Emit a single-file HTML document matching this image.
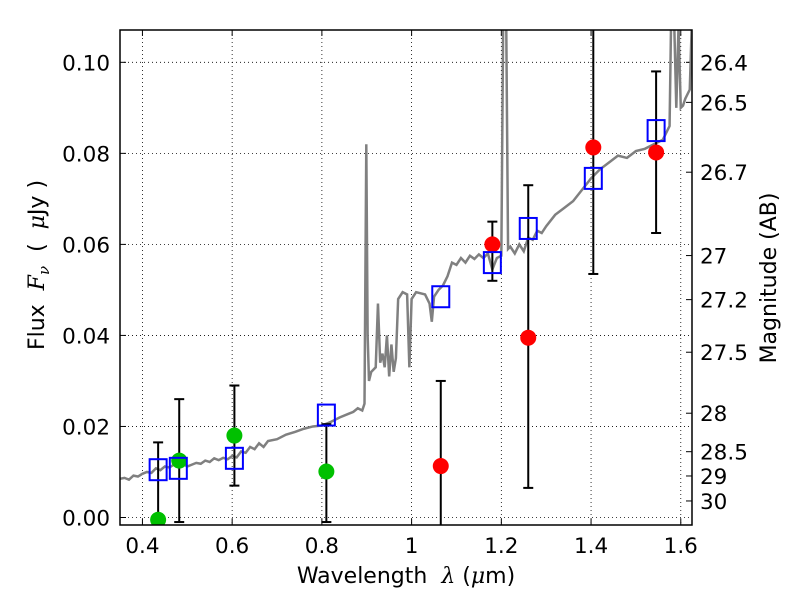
<!DOCTYPE html>
<html><head><meta charset="utf-8"><style>
body{margin:0;background:#fff;overflow:hidden;}
svg text{font-family:"DejaVu Sans","Liberation Sans",sans-serif;fill:#000;}
</style></head><body>
<div style="position:relative;width:800px;height:600px;">
<svg id="c" width="800" height="600" style="position:absolute;left:0;top:0" xmlns="http://www.w3.org/2000/svg"></svg>
<svg width="800" height="600" style="position:absolute;left:0;top:0;pointer-events:none" xmlns="http://www.w3.org/2000/svg">
<text x="406" y="583" text-anchor="middle" font-size="22" xml:space="preserve">Wavelength  <tspan font-style="italic" font-family="DejaVu Serif,serif">λ</tspan> (<tspan font-style="italic" font-family="DejaVu Serif,serif">μ</tspan>m)</text>
<text transform="translate(44,265) rotate(-90)" text-anchor="middle" font-size="22" xml:space="preserve">Flux  <tspan font-style="italic" font-family="DejaVu Serif,serif">F</tspan><tspan font-style="italic" font-family="DejaVu Serif,serif" font-size="15" dy="5">ν</tspan><tspan dy="-5">  (  </tspan><tspan font-style="italic" font-family="DejaVu Serif,serif">μ</tspan>Jy )</text>
<text transform="translate(776,278) rotate(-90)" text-anchor="middle" font-size="22">Magnitude (AB)</text>
</svg></div>
<script>
const xTicks=[0.4,0.6,0.8,1.0,1.2,1.4,1.6];
const xTickLabels=["0.4","0.6","0.8","1","1.2","1.4","1.6"];
const yTicks=[0,0.02,0.04,0.06,0.08,0.10];
const yTickLabels=["0.00","0.02","0.04","0.06","0.08","0.10"];
const magTicks=[26.4,26.5,26.7,27,27.2,27.5,28,28.5,29,30];
const magTickLabels=["26.4","26.5","26.7","27","27.2","27.5","28","28.5","29","30"];
const specX=[0.35,0.36,0.37,0.38,0.39,0.40,0.41,0.42,0.43,0.44,0.45,0.46,0.47,0.48,0.49,0.50,0.52,0.53,0.54,0.55,0.56,0.57,0.58,0.59,0.60,0.61,0.62,0.63,0.64,0.65,0.66,0.67,0.68,0.70,0.72,0.74,0.76,0.78,0.80,0.82,0.84,0.86,0.87,0.88,0.89,0.895,0.899,0.902,0.905,0.91,0.92,0.925,0.93,0.935,0.94,0.945,0.95,0.955,0.96,0.965,0.97,0.98,0.99,0.995,1.0,1.01,1.03,1.04,1.045,1.05,1.06,1.07,1.08,1.09,1.10,1.11,1.12,1.13,1.14,1.15,1.16,1.17,1.18,1.19,1.2,1.205,1.21,1.215,1.22,1.23,1.24,1.25,1.26,1.27,1.28,1.29,1.30,1.32,1.34,1.36,1.38,1.40,1.42,1.44,1.46,1.48,1.50,1.52,1.54,1.56,1.57,1.575,1.58,1.585,1.59,1.595,1.60,1.605,1.61,1.62,1.625];
const specY=[0.0085,0.0087,0.0083,0.0092,0.0090,0.0096,0.0100,0.0098,0.0108,0.0104,0.0112,0.0110,0.0116,0.0114,0.0118,0.0112,0.0120,0.0118,0.0125,0.0122,0.0130,0.0126,0.0131,0.0128,0.0135,0.0132,0.0145,0.0142,0.0155,0.0150,0.0163,0.0155,0.0168,0.0172,0.0182,0.0188,0.0195,0.0200,0.0202,0.0210,0.0220,0.0228,0.0232,0.0240,0.0235,0.0250,0.0820,0.0400,0.0300,0.0320,0.0330,0.0470,0.0340,0.0360,0.0330,0.0400,0.0310,0.0380,0.0320,0.0350,0.0480,0.0495,0.0490,0.0330,0.0480,0.0495,0.0490,0.0470,0.0430,0.0485,0.0500,0.0510,0.0530,0.0560,0.0555,0.0570,0.0560,0.0575,0.0568,0.0578,0.0570,0.0580,0.0545,0.0570,0.0575,0.1200,0.1200,0.0590,0.0595,0.0580,0.0600,0.0585,0.0615,0.0610,0.0630,0.0625,0.0640,0.0665,0.0680,0.0695,0.0720,0.0745,0.0765,0.0780,0.0795,0.0790,0.0805,0.0810,0.0820,0.0830,0.0850,0.0860,0.1200,0.1100,0.0900,0.1080,0.0900,0.0905,0.0920,0.0940,0.1100];
const modelX=[0.435,0.48,0.605,0.81,1.065,1.18,1.26,1.405,1.545];
const modelY=[0.0105,0.0108,0.013,0.0225,0.0485,0.056,0.0635,0.0745,0.085];
const greenX=[0.435,0.482,0.605,0.81];
const greenY=[-0.0005,0.0125,0.018,0.0101];
const redX=[1.065,1.18,1.26,1.405,1.545];
const redY=[0.0113,0.060,0.0395,0.0813,0.0802];
const errX=[0.435,0.482,0.605,0.81,1.065,1.18,1.26,1.405,1.545];
const errLo=[0.0,-0.001,0.007,-0.001,-0.01,0.052,0.0065,0.0535,0.0625];
const errHi=[0.0165,0.026,0.029,0.0205,0.030,0.065,0.073,0.12,0.098];

const L=120,R=692,T=30,B=525,X0=0.35,X1=1.625,Y0=-0.00165,Y1=0.1071;
const sx=v=>L+(v-X0)/(X1-X0)*(R-L);
const sy=v=>B-(v-Y0)/(Y1-Y0)*(B-T);
const magToFlux=m=>Math.pow(10,(23.9-m)/2.5);
const svg=document.getElementById('c');
const NS="http://www.w3.org/2000/svg";
function mk(tag,attrs,parent){const e=document.createElementNS(NS,tag);for(const k in attrs)e.setAttribute(k,attrs[k]);(parent||svg).appendChild(e);return e;}
const defs=mk('defs',{});const cp=mk('clipPath',{id:'clip'},defs);mk('rect',{x:L,y:T,width:R-L,height:B-T},cp);
const grid=mk('g',{});


xTicks.forEach((v,i)=>{
  const l=mk('line',{x1:sx(v),x2:sx(v),y1:T,y2:B,stroke:'#000','stroke-width':0.8,'stroke-dasharray':'1,3'},grid);
  
  
  mk('line',{x1:sx(v),x2:sx(v),y1:B,y2:B-6,stroke:'#000'});mk('line',{x1:sx(v),x2:sx(v),y1:T,y2:T+6,stroke:'#000'});
  const t=mk('text',{x:sx(v),y:B+28,'text-anchor':'middle','font-size':21.5});t.textContent=xTickLabels[i];
  
  
});
yTicks.forEach((v,i)=>{
  const l=mk('line',{x1:L,x2:R,y1:sy(v),y2:sy(v),stroke:'#000','stroke-width':0.8,'stroke-dasharray':'1,3'},grid);
  
  
  mk('line',{x1:L,x2:L+6,y1:sy(v),y2:sy(v),stroke:'#000'});
  const t=mk('text',{x:L-10,y:sy(v)+8,'text-anchor':'end','font-size':21.5});t.textContent=yTickLabels[i];
  
  
});
magTicks.forEach((m,i)=>{
  const y=sy(magToFlux(m));
  mk('line',{x1:R,x2:R-6,y1:y,y2:y,stroke:'#000'});
  const t=mk('text',{x:R+8,y:y+8,'font-size':21.5});t.textContent=magTickLabels[i];
  
  
});
const pg=mk('g',{'clip-path':'url(#clip)'});
const sp=mk('polyline',{points:specX.map((x,i)=>sx(x)+','+sy(specY[i])).join(' '),fill:'none',stroke:'#808080','stroke-width':2.5},pg);


errX.forEach((x,i)=>{
  const g=mk('g',{},pg);
  
  
  mk('line',{x1:sx(x),x2:sx(x),y1:sy(errLo[i]),y2:sy(errHi[i]),stroke:'#000','stroke-width':2},g);
  mk('line',{x1:sx(x)-5,x2:sx(x)+5,y1:sy(errLo[i]),y2:sy(errLo[i]),stroke:'#000','stroke-width':2},g);
  mk('line',{x1:sx(x)-5,x2:sx(x)+5,y1:sy(errHi[i]),y2:sy(errHi[i]),stroke:'#000','stroke-width':2},g);
});
greenX.forEach((x,i)=>{const c=mk('circle',{cx:sx(x),cy:sy(greenY[i]),r:8,fill:'#00c000'},pg);
  
  });
redX.forEach((x,i)=>{const c=mk('circle',{cx:sx(x),cy:sy(redY[i]),r:8,fill:'#ff0000'},pg);
  
  });
modelX.forEach((x,i)=>{const r=mk('rect',{x:sx(x)-8.5,y:sy(modelY[i])-10.5,width:17,height:21,fill:'none',stroke:'#0000ff','stroke-width':2},pg);
  
  });
const fr=mk('rect',{x:L,y:T,width:R-L,height:B-T,fill:'none',stroke:'#000','stroke-width':1.5});


</script>
</body></html>
